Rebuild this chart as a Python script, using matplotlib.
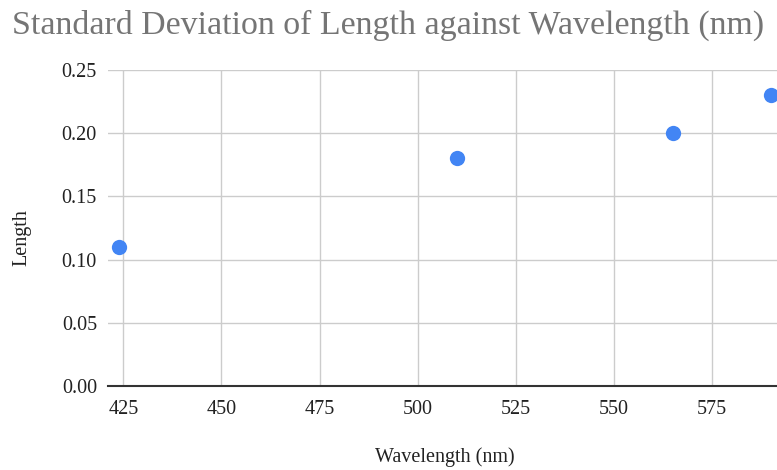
import matplotlib.pyplot as plt

wavelength = [424, 510, 565, 590]
std_length = [0.11, 0.18, 0.20, 0.23]
x_ticks = [425, 450, 475, 500, 525, 550, 575]
y_ticks = [0.00, 0.05, 0.10, 0.15, 0.20, 0.25]

plt.rcParams['font.family'] = ['Liberation Serif', 'DejaVu Serif']

fig = plt.figure(figsize=(7.77, 4.70), dpi=100)
ax = fig.add_axes([108 / 777, 1 - 386 / 470, 1 - 108 / 777, (386 - 70) / 470])

ax.scatter(wavelength, std_length, s=11 ** 2, color='#4285F4', zorder=3, clip_on=False, linewidths=0)

ax.set_xlim(421.1, 591.5)
ax.set_ylim(0, 0.25)
ax.set_xticks(x_ticks)
ax.set_yticks(y_ticks)
ax.set_yticklabels([f'{v:.2f}' for v in y_ticks])
ax.tick_params(axis='both', length=0, labelsize=14.5, colors='#222222')
ax.tick_params(axis='x', pad=10)
ax.tick_params(axis='y', pad=8)

ax.grid(True, color='#cccccc', linewidth=1)
ax.set_axisbelow(True)
for s in ['top', 'right', 'left']:
    ax.spines[s].set_visible(False)
ax.spines['bottom'].set_color('#333333')
ax.spines['bottom'].set_linewidth(1.5)
ax.spines['bottom'].set_zorder(2)

fig.text(12 / 777, 1 - 25 / 470, 'Standard Deviation of Length against Wavelength (nm)',
         fontsize=24.4, color='#757575', ha='left', va='center')
fig.text(22 / 777, 1 - 238 / 470, 'Length', rotation=90, fontsize=14.5, ha='center', va='center', color='#222222')
fig.text(445 / 777, 1 - 457 / 470, 'Wavelength (nm)', fontsize=14.5, ha='center', va='center', color='#222222')

fig.savefig('out.png', dpi=100)
